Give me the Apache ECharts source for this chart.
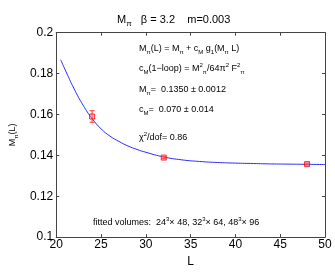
<!DOCTYPE html>
<html><head><meta charset="utf-8">
<script src="https://cdn.jsdelivr.net/npm/echarts@6/dist/echarts.min.js"></script>
<style>html,body{margin:0;padding:0;background:#fff}#c{width:335px;height:273px}</style>
</head><body><div id="c"></div>
<script>
// Data
var fitL =   [20.5, 21, 22, 23, 24, 25, 26, 27, 28, 29, 30, 32, 34, 36, 38, 40, 42, 44, 46, 48, 50];
var fitM =   [0.1867, 0.1818, 0.1725, 0.1645, 0.1580, 0.1530, 0.1494, 0.1468, 0.1446, 0.1429, 0.1415, 0.1392, 0.1378, 0.1370, 0.1365, 0.1362, 0.1360, 0.1358, 0.1357, 0.1356, 0.1355];
var dataL =  [24, 32, 48];
var dataM =  [0.1590, 0.1389, 0.1357];
var dataErr = [0.0028, 0.0005, 0.0005];
var xTicks = [20, 25, 30, 35, 40, 45, 50];
var yTicks = [0.1, 0.12, 0.14, 0.16, 0.18, 0.2];

var FONT = 'Liberation Sans';
var chart = echarts.init(document.getElementById('c'), null, {renderer: 'canvas'});

function richSet(fs) {
  var lh = Math.round(fs * 1.45);
  var s = Math.round(fs * 0.72);
  return {
    n: {fontSize: fs, lineHeight: lh, fontFamily: FONT, color: '#000', fontWeight: 'normal'},
    sb: {fontSize: s, lineHeight: s, verticalAlign: 'bottom', fontFamily: FONT, color: '#000', fontWeight: 'normal'},
    sp: {fontSize: s, lineHeight: s, verticalAlign: 'top', fontFamily: FONT, color: '#000', fontWeight: 'normal'}
  };
}

var ptData = dataL.map(function (l, i) { return [l, dataM[i]]; });
var errData = dataL.map(function (l, i) { return [l, dataM[i] - dataErr[i], dataM[i] + dataErr[i]]; });
var fitData = fitL.map(function (l, i) { return [l, fitM[i]]; });

var axisLineStyle = {color: '#444', width: 1};
var annX = 139;
function ann(y, text) {
  return {type: 'text', left: annX, top: y, style: {text: text, rich: richSet(9), font: '9px ' + FONT}};
}

chart.setOption({
  animation: false,
  backgroundColor: '#fff',
  title: {
    text: '{n|M}{sb|π}{n|   β = 3.2    m=0.003}',
    left: 112, top: 7,
    textStyle: {fontWeight: 'normal', rich: richSet(11)}
  },
  grid: {left: 46.7, right: 10, top: 32.7, bottom: 31, containLabel: false},
  xAxis: [{
    type: 'value', min: 20, max: 50, interval: 5,
    axisLine: {show: true, lineStyle: axisLineStyle},
    axisTick: {show: true, inside: true, length: 3, lineStyle: axisLineStyle},
    axisLabel: {fontSize: 12, fontFamily: FONT, color: '#000', margin: 2,
      customValues: xTicks},
    splitLine: {show: false},
    name: 'L', nameLocation: 'middle', nameGap: 15,
    nameTextStyle: {fontSize: 12, fontFamily: FONT, color: '#000'}
  }, {
    type: 'value', min: 20, max: 50, interval: 5, position: 'top',
    axisLine: {show: true, lineStyle: axisLineStyle},
    axisTick: {show: true, inside: true, length: 3, lineStyle: axisLineStyle},
    axisLabel: {show: false}, splitLine: {show: false}
  }],
  yAxis: [{
    type: 'value', min: 0.1, max: 0.2, interval: 0.02,
    axisLine: {show: true, lineStyle: axisLineStyle},
    axisTick: {show: true, inside: true, length: 3, lineStyle: axisLineStyle},
    axisLabel: {fontSize: 12, fontFamily: FONT, color: '#000', margin: 3,
      formatter: function (v) { return String(+v.toFixed(2)); }},
    splitLine: {show: false},
    name: '{n|M}{sb|π}{n|(L)}', nameLocation: 'middle', nameGap: 22, nameRotate: 90,
    nameTextStyle: {rich: richSet(9)}
  }, {
    type: 'value', min: 0.1, max: 0.2, interval: 0.02, position: 'right',
    axisLine: {show: true, lineStyle: axisLineStyle},
    axisTick: {show: true, inside: true, length: 3, lineStyle: axisLineStyle},
    axisLabel: {show: false}, splitLine: {show: false}
  }],
  series: [{
    type: 'line', data: fitData, smooth: true, showSymbol: false,
    lineStyle: {color: '#2a2aff', width: 1}, z: 2
  }, {
    type: 'custom', data: errData, z: 3,
    renderItem: function (params, api) {
      var lo = api.coord([api.value(0), api.value(1)]);
      var hi = api.coord([api.value(0), api.value(2)]);
      var c = 2.5;
      var st = {stroke: '#ff3030', lineWidth: 1};
      return {type: 'group', children: [
        {type: 'line', shape: {x1: lo[0], y1: lo[1], x2: hi[0], y2: hi[1]}, style: st},
        {type: 'line', shape: {x1: lo[0] - c, y1: lo[1], x2: lo[0] + c, y2: lo[1]}, style: st},
        {type: 'line', shape: {x1: hi[0] - c, y1: hi[1], x2: hi[0] + c, y2: hi[1]}, style: st}
      ]};
    }
  }, {
    type: 'scatter', data: ptData, symbol: 'rect', symbolSize: 5, z: 4,
    itemStyle: {color: 'rgba(255,120,120,0.5)', borderColor: '#ff0000', borderWidth: 1}
  }],
  graphic: [
    ann(44, '{n|M}{sb|π}{n|(L) = M}{sb|π}{n| + c}{sb|M}{n| g}{sb|1}{n|(M}{sb|π}{n| L)}'),
    ann(62, '{n|c}{sb|M}{n|(1−loop) = M}{sp|2}{sb|π}{n|/64π}{sp|2}{n| F}{sp|2}{sb|π}'),
    ann(85, '{n|M}{sb|π}{n|=  0.1350 ± 0.0012}'),
    ann(105, '{n|c}{sb|M}{n|=  0.070 ± 0.014}'),
    ann(131, '{n|χ}{sp|2}{n|/dof= 0.86}'),
    {type: 'text', left: 93, top: 216, style: {text: '{n|fitted volumes:  24}{sp|3}{n|× 48, 32}{sp|3}{n|× 64, 48}{sp|3}{n|× 96}', rich: richSet(9)}}
  ]
});
</script>
</body></html>
